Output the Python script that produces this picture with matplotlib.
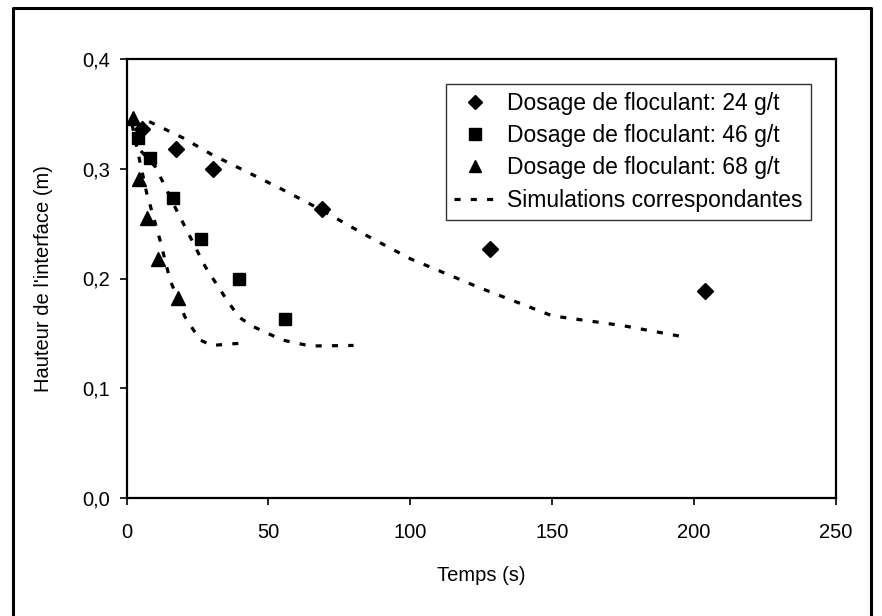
import matplotlib
matplotlib.use("Agg")
import matplotlib.pyplot as plt
from matplotlib.lines import Line2D
from matplotlib.ticker import FuncFormatter

plt.rcParams['font.family'] = ['Liberation Sans', 'DejaVu Sans']

# Experimental data
t_24 = [5.6, 17.5, 30.6, 69.0, 128.0, 204.0]
h_24 = [0.336, 0.318, 0.300, 0.263, 0.227, 0.189]
t_46 = [4.2, 8.3, 16.3, 26.2, 39.5, 55.9]
h_46 = [0.328, 0.310, 0.273, 0.236, 0.200, 0.163]
t_68 = [2.4, 4.5, 7.3, 11.2, 18.3]
h_68 = [0.346, 0.291, 0.255, 0.218, 0.182]

# Simulations
ts_24 = [8, 20, 30, 41, 55, 69, 84, 100, 125, 150, 175, 198]
hs_24 = [0.343, 0.328, 0.313, 0.299, 0.281, 0.262, 0.240, 0.218, 0.191, 0.166, 0.157, 0.146]
ts_46 = [3, 4.8, 10.1, 13.0, 17.1, 23.0, 27.7, 34.2, 39.5, 44.8, 54.8, 64.7, 80.0]
hs_46 = [0.330, 0.317, 0.302, 0.287, 0.265, 0.235, 0.211, 0.185, 0.165, 0.156, 0.144, 0.1385, 0.139]
ts_68 = [2, 3.6, 7.1, 11.8, 15.3, 20.6, 25.9, 30.1, 40.1]
hs_68 = [0.340, 0.320, 0.278, 0.235, 0.199, 0.165, 0.144, 0.139, 0.141]

labels = ["Dosage de floculant: 24 g/t", "Dosage de floculant: 46 g/t",
          "Dosage de floculant: 68 g/t", "Simulations correspondantes"]

W, H = 882, 616
fig = plt.figure(figsize=(W/100, H/100), dpi=100)
L, R, T, B = 126.5, 836, 59, 498
ax = fig.add_axes([L/W, 1-B/H, (R-L)/W, (B-T)/H])

dash = (0, (1.9, 3.2))
for ts, hs in [(ts_24, hs_24), (ts_46, hs_46), (ts_68, hs_68)]:
    ax.plot(ts, hs, color='black', lw=2.3, linestyle=dash)
ax.plot(t_24, h_24, 'D', color='black', ms=8, ls='none')
ax.plot(t_46, h_46, 's', color='black', ms=9, ls='none')
ax.plot(t_68, h_68, '^', color='black', ms=10.5, ls='none')

ax.set_xlim(0, 250)
ax.set_ylim(0, 0.4)
ax.set_xticks([0, 50, 100, 150, 200, 250])
ax.set_yticks([0, 0.1, 0.2, 0.3, 0.4])
ax.yaxis.set_major_formatter(FuncFormatter(lambda v, p: f"{v:.1f}".replace('.', ',')))
ax.tick_params(direction='out', length=5, width=1.2, labelsize=14.5)
ax.tick_params(axis='x', pad=13)
ax.tick_params(axis='y', pad=7)
for s in ax.spines.values():
    s.set_linewidth(1.6)

ax.set_xlabel("Temps (s)", fontsize=14.5, labelpad=17)
ax.set_ylabel("Hauteur de l'interface (m)", fontsize=14.5)
ax.yaxis.set_label_coords((53 - L) / (R - L), 0.5)

handles = [
    Line2D([], [], marker='D', color='black', ls='none', ms=7.5),
    Line2D([], [], marker='s', color='black', ls='none', ms=8),
    Line2D([], [], marker='^', color='black', ls='none', ms=9),
    Line2D([], [], color='black', lw=2.3, linestyle=dash),
]
leg = ax.legend(handles, labels, loc='upper right',
                bbox_to_anchor=((811 - L) / (R - L), (B - 84) / (B - T)),
                borderaxespad=0, fontsize=16.5, frameon=True, fancybox=False,
                edgecolor='black', handlelength=1.9, handletextpad=0.45,
                borderpad=0.35, labelspacing=0.4)
leg.get_frame().set_linewidth(1.0)

# outer frame
fx0, fy0, fx1 = 12.7 / W, 1 - 8.3 / H, 871 / W
fig.add_artist(Line2D([fx0, fx0, fx1, fx1], [0, fy0, fy0, 0], color='black', lw=2.2,
                      transform=fig.transFigure))

fig.savefig("out.png", dpi=100)
